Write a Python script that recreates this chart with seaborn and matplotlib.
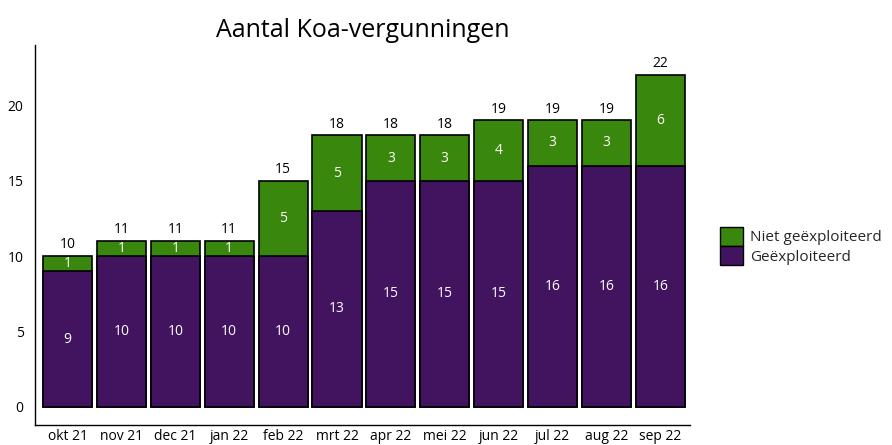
import matplotlib
matplotlib.use("Agg")
import matplotlib.pyplot as plt
import pandas as pd
import seaborn as sns
from matplotlib.patches import Patch

# data
maanden = ["okt 21", "nov 21", "dec 21", "jan 22", "feb 22", "mrt 22",
           "apr 22", "mei 22", "jun 22", "jul 22", "aug 22", "sep 22"]
geexploiteerd = [9, 10, 10, 10, 10, 13, 15, 15, 15, 16, 16, 16]
niet_geexploiteerd = [1, 1, 1, 1, 5, 5, 3, 3, 4, 3, 3, 6]

PAARS = "#42145f"
GROEN = "#39870c"

df = pd.DataFrame({"maand": maanden,
                   "expl": geexploiteerd,
                   "niet": niet_geexploiteerd})
df["totaal"] = df["expl"] + df["niet"]

sns.set_theme(style="white")
plt.rcParams["font.family"] = ["Open Sans", "DejaVu Sans"]

fig = plt.figure(figsize=(8.92, 4.45), dpi=100)
ax = fig.add_axes([0.039, 0.045, 0.735, 0.854])

# stacked: total in green, exploited overlaid in purple
sns.barplot(data=df, x="maand", y="totaal", color=GROEN, saturation=1,
            width=0.91, edgecolor="black", linewidth=1.2, ax=ax)
sns.barplot(data=df, x="maand", y="expl", color=PAARS, saturation=1,
            width=0.91, edgecolor="black", linewidth=1.2, ax=ax)

for i, row in df.iterrows():
    ax.text(i, row["expl"] / 2, str(row["expl"]), ha="center", va="center",
            color="white", fontsize=10)
    ax.text(i, row["expl"] + row["niet"] / 2, str(row["niet"]), ha="center",
            va="center", color="white", fontsize=10)
    ax.text(i, row["totaal"] + 0.25, str(row["totaal"]), ha="center",
            va="bottom", color="black", fontsize=10)

ax.set_xlim(-0.61, 11.56)
ax.set_ylim(-1.2, 24)
ax.set_yticks([0, 5, 10, 15, 20])
ax.set_xlabel("")
ax.set_ylabel("")
ax.tick_params(axis="both", length=0, labelsize=10, colors="black")
ax.tick_params(axis="x", pad=3)
ax.tick_params(axis="y", pad=8)
for s in ["top", "right"]:
    ax.spines[s].set_visible(False)
for s in ["left", "bottom"]:
    ax.spines[s].set_color("black")
    ax.spines[s].set_linewidth(1.0)

ax.set_title("Aantal Koa-vergunningen", fontsize=18, pad=6, color="black")

handles = [Patch(facecolor=GROEN, edgecolor="black", label="Niet geëxploiteerd"),
           Patch(facecolor=PAARS, edgecolor="black", label="Geëxploiteerd")]
fig.legend(handles=handles, loc="center left", bbox_to_anchor=(0.800, 0.447),
           frameon=False, fontsize=11, handlelength=1.5, handleheight=1.5,
           handletextpad=0.5, labelspacing=0.05, borderaxespad=0)

fig.savefig("out.png", dpi=100)
